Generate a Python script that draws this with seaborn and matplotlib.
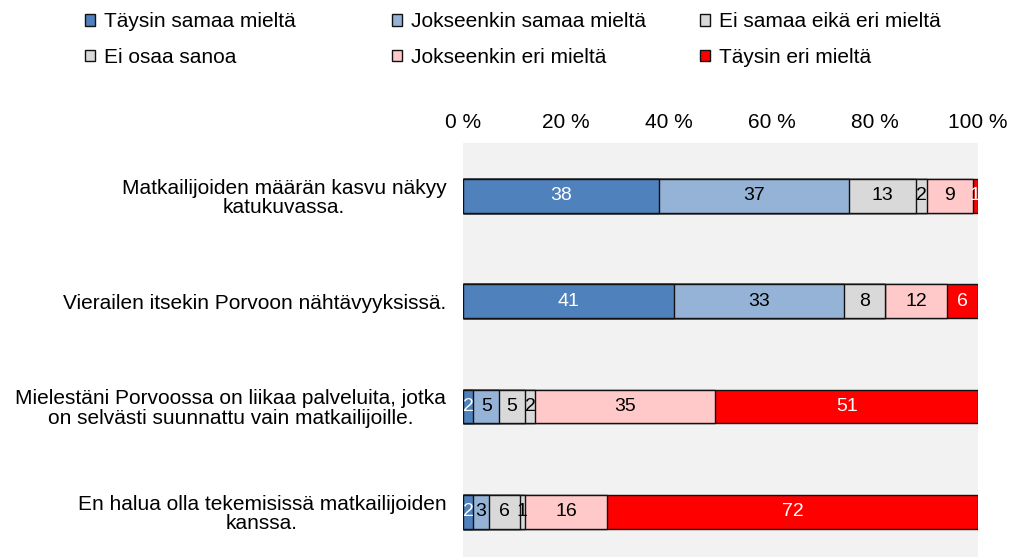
import numpy as np
import pandas as pd
import matplotlib
matplotlib.use("Agg")
import matplotlib.pyplot as plt
import seaborn as sns
from matplotlib.patches import Patch

# ---- data ----
categories = [
    "Matkailijoiden määrän kasvu näkyy\nkatukuvassa.",
    "Vierailen itsekin Porvoon nähtävyyksissä.",
    "Mielestäni Porvoossa on liikaa palveluita, jotka\non selvästi suunnattu vain matkailijoille.",
    "En halua olla tekemisissä matkailijoiden\nkanssa.",
]
series_names = [
    "Täysin samaa mieltä",
    "Jokseenkin samaa mieltä",
    "Ei samaa eikä eri mieltä",
    "Ei osaa sanoa",
    "Jokseenkin eri mieltä",
    "Täysin eri mieltä",
]
taysin_samaa = [38, 41, 2, 2]
jokseenkin_samaa = [37, 33, 5, 3]
ei_samaa_eika_eri = [13, 8, 5, 6]
ei_osaa_sanoa = [2, 0, 2, 1]
jokseenkin_eri = [9, 12, 35, 16]
taysin_eri = [1, 6, 51, 72]
tick_values = [0, 20, 40, 60, 80, 100]
tick_labels = ["0 %", "20 %", "40 %", "60 %", "80 %", "100 %"]

colors = ["#4F81BD", "#95B3D7", "#D9D9D9", "#D9D9D9", "#FFC9C9", "#FF0000"]
text_colors = ["white", "black", "black", "black", "black", "white"]

values = np.array([taysin_samaa, jokseenkin_samaa, ei_samaa_eika_eri,
                   ei_osaa_sanoa, jokseenkin_eri, taysin_eri], dtype=float)
cum = np.cumsum(values, axis=0)

sns.set_theme(style="white")
plt.rcParams["font.family"] = ["Liberation Sans", "DejaVu Sans"]
plt.rcParams["text.color"] = "black"
plt.rcParams["xtick.labelcolor"] = "black"
plt.rcParams["ytick.labelcolor"] = "black"
FS = 15
FS_BAR = 14

fig = plt.figure(figsize=(10.10, 5.57), dpi=100)
ax = fig.add_axes([463 / 1010, 0.0, (978 - 463) / 1010, (557 - 143) / 557])
ax.set_facecolor("#F2F2F2")

# draw cumulative bars from the right-most series backwards
for i in reversed(range(len(series_names))):
    df = pd.DataFrame({"cat": categories, "val": cum[i]})
    sns.barplot(data=df, x="val", y="cat", orient="h", color=colors[i],
                saturation=1, width=0.32, edgecolor="#111111", linewidth=1.0,
                ax=ax, errorbar=None)

# value labels
for i in range(len(series_names)):
    for j in range(len(categories)):
        v = values[i, j]
        if v >= 1:
            ax.text(cum[i, j] - v / 2, j, f"{v:g}", ha="center", va="center",
                    color=text_colors[i], fontsize=FS_BAR)

ax.set_xlim(0, 100)
ax.set_ylim(3.43, -0.5)
ax.xaxis.tick_top()
ax.set_xticks(tick_values)
ax.set_xticklabels(tick_labels, fontsize=FS, color="black")
ax.tick_params(axis="x", length=0, pad=8)
ax.tick_params(axis="y", length=0, pad=12)
ax.set_yticks(range(len(categories)))
ax.set_yticklabels(categories, fontsize=FS, multialignment="center",
                   linespacing=1.05, color="black")
ax.set_xlabel("")
ax.set_ylabel("")
for s in ax.spines.values():
    s.set_visible(False)

# legend: three equal-width columns, two rows
handles = [Patch(facecolor=c, edgecolor="#111111", linewidth=1.0) for c in colors]
col_x = [85 / 1010, 392 / 1010, 700 / 1010]
for c in range(3):
    idx = [c, c + 3]
    leg = fig.legend([handles[k] for k in idx], [series_names[k] for k in idx],
                     loc="upper left", bbox_to_anchor=(col_x[c], 0.978),
                     ncol=1, frameon=False, fontsize=FS, borderpad=0,
                     borderaxespad=0, handlelength=0.5, handleheight=0.5,
                     handletextpad=0.42, labelspacing=0.8)
    for t in leg.get_texts():
        t.set_color("black")

fig.savefig("out.png", dpi=100)
